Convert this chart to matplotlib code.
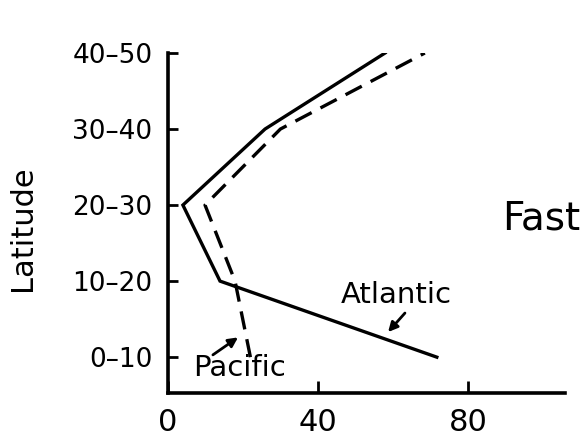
import matplotlib.pyplot as plt

# latitude bands (bottom to top) and the two ocean curves
lat_labels = ["0–10", "10–20", "20–30", "30–40", "40–50"]
lat_pos = [0, 1, 2, 3, 4]
atlantic = [71.7, 13.9, 4.0, 25.9, 57.9]
pacific = [22.0, 17.9, 9.9, 30.0, 68.5]
x_ticks = [0, 40, 80]

plt.rcParams['font.family'] = ['DejaVu Sans']

fig = plt.figure(figsize=(5.85, 4.38), dpi=100)
ax = fig.add_axes([0.287, 0.103, 0.679, 0.776])

ax.plot(atlantic, lat_pos, color='black', lw=2.4, solid_joinstyle='miter')
ax.plot(pacific, lat_pos, color='black', lw=2.4, linestyle=(0, (5.5, 3)))

ax.set_xlim(0, 105.9)
ax.set_ylim(-0.47, 4)

ax.set_xticks(x_ticks)
ax.set_xticklabels([str(v) for v in x_ticks], fontsize=22)
ax.set_yticks(lat_pos)
ax.set_yticklabels(lat_labels, fontsize=19)
ax.tick_params(axis='x', direction='in', length=9, width=2, pad=11)
ax.tick_params(axis='y', direction='in', length=7, width=2, pad=11)

for s in ['top', 'right']:
    ax.spines[s].set_visible(False)
for s in ['left', 'bottom']:
    ax.spines[s].set_linewidth(2.6)

fig.text(22 / 585, 1 - 228 / 438, "Latitude", fontsize=22, rotation=90,
         ha='center', va='center')

# labels and their pointer arrows
ax.text(60.8, 0.82, "Atlantic", fontsize=21, ha='center', va='center')
ax.text(19.2, -0.14, "Pacific", fontsize=21, ha='center', va='center')
arrow = dict(arrowstyle='-|>', color='black', lw=2, shrinkA=0, shrinkB=0,
             mutation_scale=14)
ax.annotate("", xy=(58.7, 0.33), xytext=(63.2, 0.58), arrowprops=arrow)
ax.annotate("", xy=(18.7, 0.26), xytext=(12.0, 0.03), arrowprops=arrow)

fig.text(0.858, 0.477, "Fast", fontsize=28, ha='left', va='baseline')

fig.savefig("out.png", dpi=100)
